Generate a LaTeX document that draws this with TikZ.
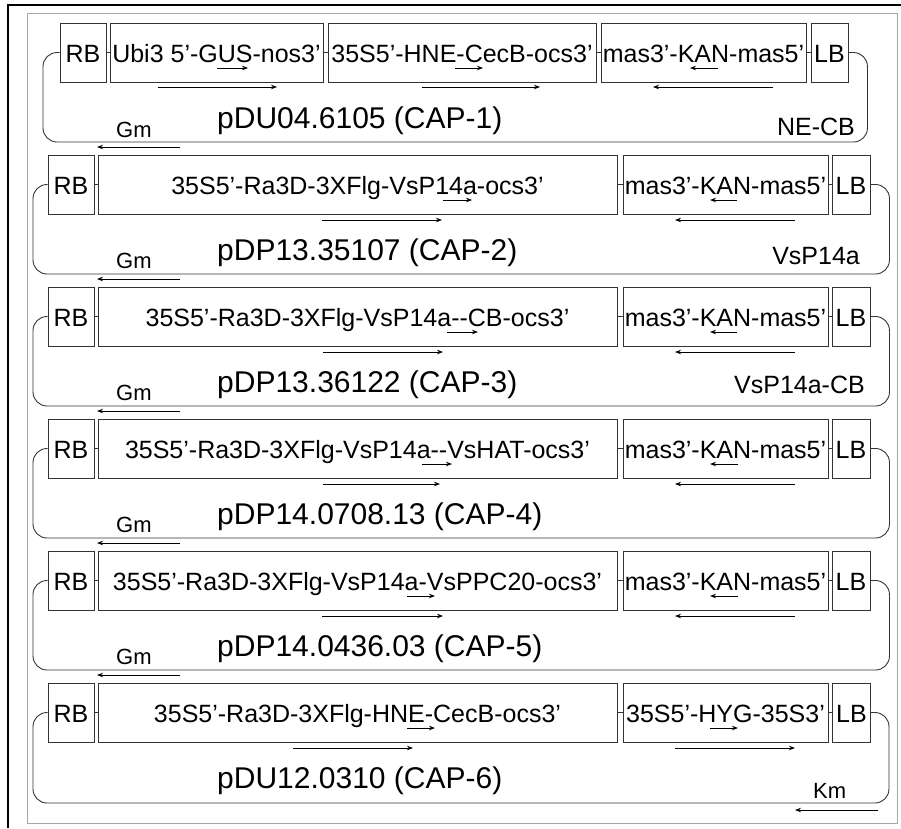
\documentclass[tikz,border=0pt]{standalone}
\usepackage{fontspec}
\setmainfont{Liberation Sans}
\usetikzlibrary{arrows.meta}

\begin{document}
\begin{tikzpicture}[x=1pt, y=-1pt]
    \tikzstyle{part} = [rectangle, draw=black!80, line width=0.9pt, minimum height=59pt, inner sep=0pt, text height=20pt, text depth=0pt, font=\fontsize{25}{28}\selectfont]
    \tikzstyle{backbone} = [draw=black!80, line width=0.9pt, rounded corners=14pt]
    \tikzstyle{gene} = [-{Stealth[length=6pt, width=4.5pt]}, line width=0.9pt]
    \tikzstyle{plasmid} = [anchor=base west, inner sep=0pt, font=\fontsize{30}{34}\selectfont]
    \tikzstyle{resist} = [anchor=base west, inner sep=0pt, font=\fontsize{22}{24}\selectfont]
    \tikzstyle{cargo} = [anchor=base east, inner sep=0pt, font=\fontsize{25}{28}\selectfont]

    \useasboundingbox (0,0) rectangle (901,828);

    % Frame
    \draw[line width=2pt] (8,828) -- (8,5) -- (901,5);
    \draw[black!35, line width=1pt] (27,13) rectangle (897,823);

    % CAP-1
    \node[part, minimum width=46pt] (rb1) at (83,52.5) {RB};
    \node[part, minimum width=213pt] (gus1) at (216.5,52.5) {Ubi3 5’-GUS-nos3’};
    \node[part, minimum width=268pt] (hne1) at (462,52.5) {35S5’-HNE-CecB-ocs3’};
    \node[part, minimum width=205pt] (kan1) at (703.5,52.5) {mas3’-KAN-mas5’};
    \node[part, minimum width=37pt] (lb1) at (829.5,52.5) {LB};
    \draw[backbone] (rb1) -- (gus1);
    \draw[backbone] (gus1) -- (hne1);
    \draw[backbone] (hne1) -- (kan1);
    \draw[backbone] (kan1) -- (lb1);
    \draw[backbone] (rb1.west) -| (43,142) -| ([xshift=19pt]lb1.east) -- (lb1.east);
    \draw[gene] (217,68) -- (248,68);
    \draw[gene] (158,87) -- (277,87);
    \draw[gene] (455,68) -- (483,68);
    \draw[gene] (422,87) -- (540,87);
    \draw[gene] (718,68) -- (690,68);
    \draw[gene] (773,87) -- (653,87);
    \draw[gene] (180,147) -- (97,147);
    \node[plasmid] (cap1) at (217,128) {pDU04.6105 (CAP-1)};
    \node[resist] (gm1) at (116,137) {Gm};
    \node[cargo] (necb) at (855,135) {NE-CB};

    % CAP-2
    \node[part, minimum width=46pt] (rb2) at (71,184.5) {RB};
    \node[part, minimum width=519pt] (vsp2) at (357.5,184.5) {35S5’-Ra3D-3XFlg-VsP14a-ocs3’};
    \node[part, minimum width=205pt] (kan2) at (725.5,184.5) {mas3’-KAN-mas5’};
    \node[part, minimum width=38pt] (lb2) at (851,184.5) {LB};
    \draw[backbone] (rb2) -- (vsp2);
    \draw[backbone] (vsp2) -- (kan2);
    \draw[backbone] (kan2) -- (lb2);
    \draw[backbone] (rb2.west) -| (33,274) -| ([xshift=19pt]lb2.east) -- (lb2.east);
    \draw[gene] (443,200) -- (472,200);
    \draw[gene] (322,220) -- (442,220);
    \draw[gene] (737,200) -- (710,200);
    \draw[gene] (795,220) -- (675,220);
    \draw[gene] (180,279) -- (97,279);
    \node[plasmid] (cap2) at (217,260) {pDP13.35107 (CAP-2)};
    \node[resist] (gm2) at (116,268) {Gm};
    \node[cargo] (vsp) at (860,264) {VsP14a};

    % CAP-3
    \node[part, minimum width=46pt] (rb3) at (71,316.5) {RB};
    \node[part, minimum width=519pt] (cb3) at (357.5,316.5) {35S5’-Ra3D-3XFlg-VsP14a-{}-CB-ocs3’};
    \node[part, minimum width=205pt] (kan3) at (725.5,316.5) {mas3’-KAN-mas5’};
    \node[part, minimum width=38pt] (lb3) at (851,316.5) {LB};
    \draw[backbone] (rb3) -- (cb3);
    \draw[backbone] (cb3) -- (kan3);
    \draw[backbone] (kan3) -- (lb3);
    \draw[backbone] (rb3.west) -| (33,406) -| ([xshift=19pt]lb3.east) -- (lb3.east);
    \draw[gene] (447,332) -- (478,332);
    \draw[gene] (323,352) -- (443,352);
    \draw[gene] (737,332) -- (710,332);
    \draw[gene] (795,352) -- (675,352);
    \draw[gene] (180,411) -- (97,411);
    \node[plasmid] (cap3) at (217,392) {pDP13.36122 (CAP-3)};
    \node[resist] (gm3) at (116,400) {Gm};
    \node[cargo] (vspcb) at (865,393) {VsP14a-CB};

    % CAP-4
    \node[part, minimum width=46pt] (rb4) at (71,448.5) {RB};
    \node[part, minimum width=519pt] (hat4) at (357.5,448.5) {35S5’-Ra3D-3XFlg-VsP14a-{}-VsHAT-ocs3’};
    \node[part, minimum width=205pt] (kan4) at (725.5,448.5) {mas3’-KAN-mas5’};
    \node[part, minimum width=38pt] (lb4) at (851,448.5) {LB};
    \draw[backbone] (rb4) -- (hat4);
    \draw[backbone] (hat4) -- (kan4);
    \draw[backbone] (kan4) -- (lb4);
    \draw[backbone] (rb4.west) -| (33,538) -| ([xshift=19pt]lb4.east) -- (lb4.east);
    \draw[gene] (422,464) -- (452,464);
    \draw[gene] (323,484) -- (440,484);
    \draw[gene] (738,464) -- (710,464);
    \draw[gene] (795,484) -- (675,484);
    \draw[gene] (180,543) -- (97,543);
    \node[plasmid] (cap4) at (217,524) {pDP14.0708.13 (CAP-4)};
    \node[resist] (gm4) at (116,532) {Gm};

    % CAP-5
    \node[part, minimum width=46pt] (rb5) at (71,580.5) {RB};
    \node[part, minimum width=519pt] (ppc5) at (357.5,580.5) {35S5’-Ra3D-3XFlg-VsP14a-VsPPC20-ocs3’};
    \node[part, minimum width=205pt] (kan5) at (725.5,580.5) {mas3’-KAN-mas5’};
    \node[part, minimum width=38pt] (lb5) at (851,580.5) {LB};
    \draw[backbone] (rb5) -- (ppc5);
    \draw[backbone] (ppc5) -- (kan5);
    \draw[backbone] (kan5) -- (lb5);
    \draw[backbone] (rb5.west) -| (33,670) -| ([xshift=19pt]lb5.east) -- (lb5.east);
    \draw[gene] (407,596) -- (435,596);
    \draw[gene] (322,616) -- (443,616);
    \draw[gene] (738,596) -- (710,596);
    \draw[gene] (795,616) -- (675,616);
    \draw[gene] (180,675) -- (97,675);
    \node[plasmid] (cap5) at (217,656) {pDP14.0436.03 (CAP-5)};
    \node[resist] (gm5) at (116,664) {Gm};

    % CAP-6
    \node[part, minimum width=46pt] (rb6) at (71,712.5) {RB};
    \node[part, minimum width=519pt] (hne6) at (357.5,712.5) {35S5’-Ra3D-3XFlg-HNE-CecB-ocs3’};
    \node[part, minimum width=205pt] (hyg6) at (725.5,712.5) {35S5’-HYG-35S3’};
    \node[part, minimum width=38pt] (lb6) at (851.5,712.5) {LB};
    \draw[backbone] (rb6) -- (hne6);
    \draw[backbone] (hne6) -- (hyg6);
    \draw[backbone] (hyg6) -- (lb6);
    \draw[backbone] (rb6.west) -| (33,803) -| ([xshift=18pt]lb6.east) -- (lb6.east);
    \draw[gene] (407,728) -- (435,728);
    \draw[gene] (293,748) -- (413,748);
    \draw[gene] (710,728) -- (738,728);
    \draw[gene] (675,748) -- (795,748);
    \draw[gene] (878,810) -- (795,810);
    \node[plasmid] (cap6) at (217,788) {pDU12.0310 (CAP-6)};
    \node[resist] (km) at (813,798) {Km};
\end{tikzpicture}
\end{document}
